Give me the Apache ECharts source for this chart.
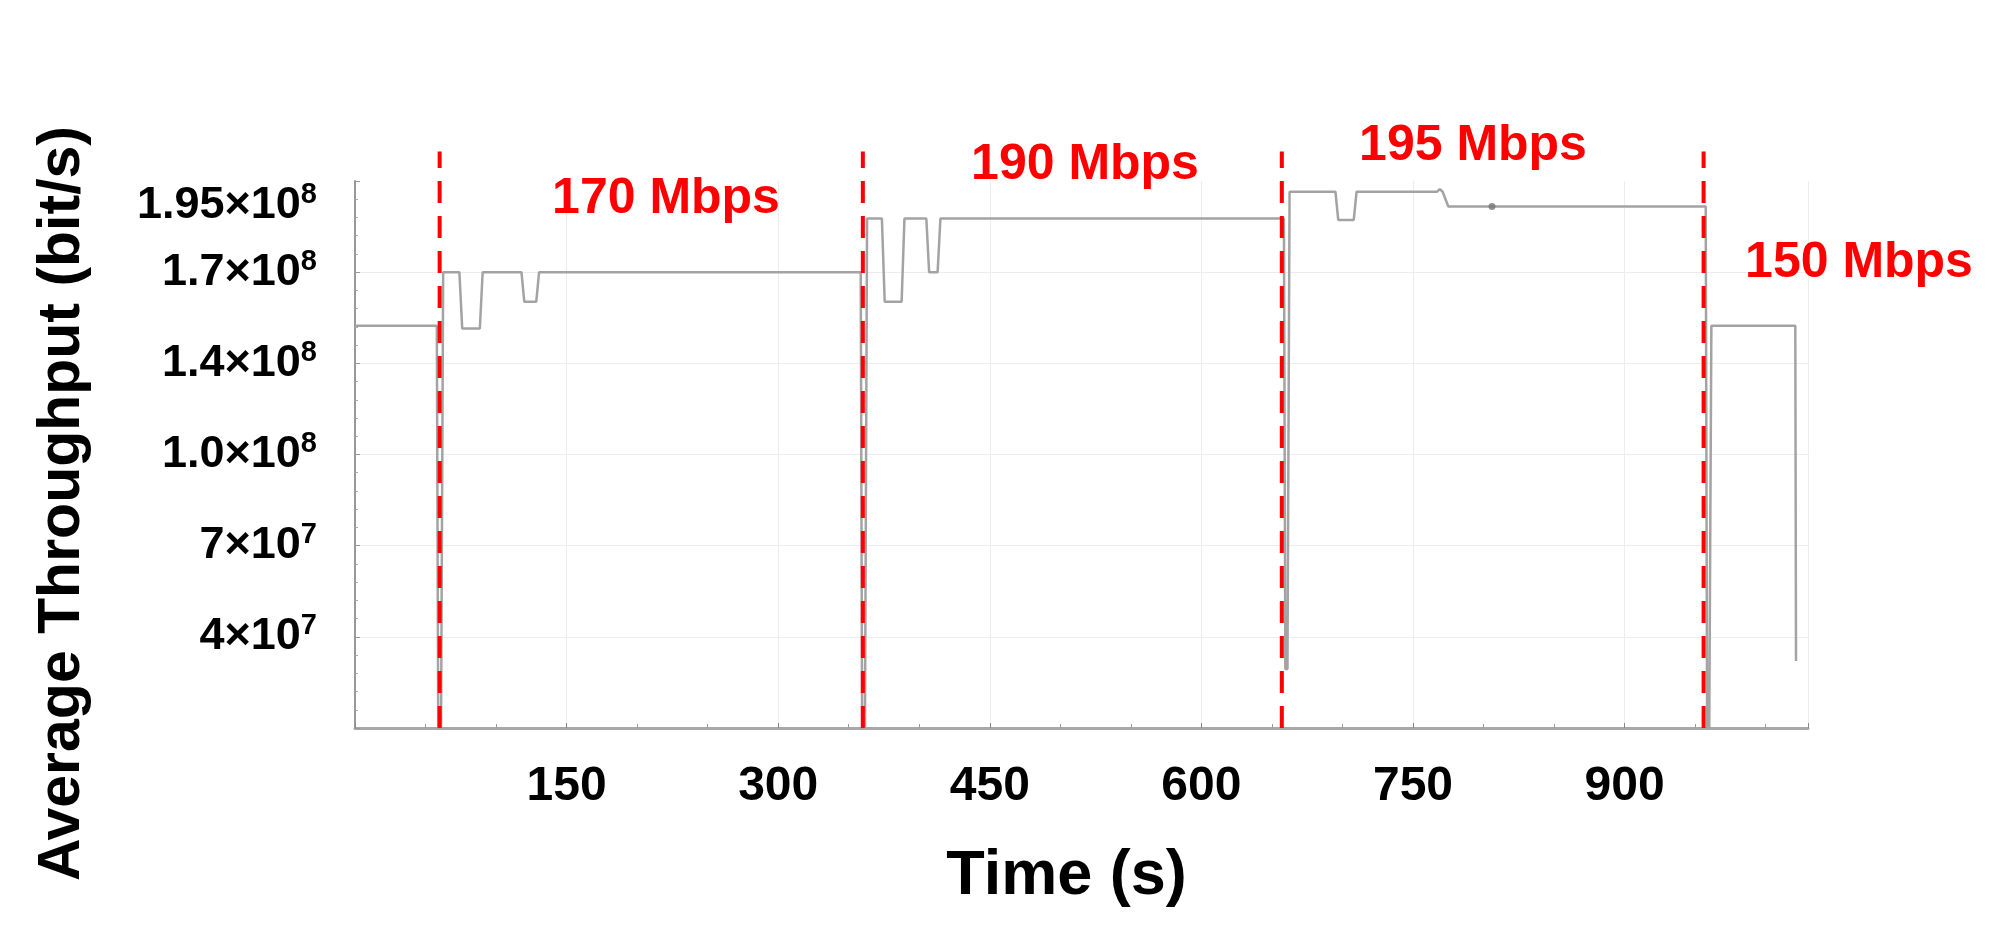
<!DOCTYPE html>
<html><head><meta charset="utf-8">
<script src="https://cdn.jsdelivr.net/npm/echarts@6/dist/echarts.min.js"></script>
<style>html,body{margin:0;padding:0;background:#fff}#c{width:1995px;height:932px}</style>
</head><body><div id="c"></div>
<script>
// ---- data ----
const timeS = [0, 58, 59, 61, 62.5, 74, 76, 88.5, 90.5, 118, 120, 128.5, 130.5,
  358.5, 359.5, 361.5, 363, 373.5, 375.5, 387.5, 389.5, 405, 407, 413, 415,
  658.5, 659.5, 661, 662.5, 695, 697, 708, 710, 767, 769, 771, 775,
  957.5, 958.5, 960, 961.5, 1021, 1021.5];
const throughputBps = [150e6, 150e6, 0, 0, 170e6, 170e6, 149e6, 149e6, 170e6, 170e6, 159e6, 159e6, 170e6,
  170e6, 0, 0, 190e6, 190e6, 159e6, 159e6, 190e6, 190e6, 170e6, 170e6, 190e6,
  190e6, 22e6, 22e6, 200e6, 200e6, 189.5e6, 189.5e6, 200e6, 200e6, 201e6, 200e6, 194.5e6,
  194.5e6, 0, 0, 150e6, 150e6, 25e6];
const dotTime = [806];
const dotValue = [194.5e6];
const rateChangeTimes = [60, 360, 657, 956];
const rateLabels = ['170 Mbps', '190 Mbps', '195 Mbps', '150 Mbps'];
const yTickValues = [34e6, 68e6, 102e6, 136e6, 170e6, 195e6];
const yTickMantissa = ['4', '7', '1.0', '1.4', '1.7', '1.95'];
const yTickExponent = ['7', '7', '8', '8', '8', '8'];

const FONT = 'Liberation Sans, Arial, sans-serif';
const chart = echarts.init(document.getElementById('c'), null, {renderer: 'canvas'});

const dashSeries = rateChangeTimes.map(t => ({
  type: 'line', clip: false, silent: true, showSymbol: false, z: 5,
  data: [[t, 0], [t, 215e6]],
  lineStyle: {color: '#ff0000', width: 4, type: [22, 13]}
}));

const labelPos = [[666, 199], [1085, 165], [1473, 146], [1859, 263]];

chart.setOption({
  animation: false,
  backgroundColor: '#fff',
  grid: {left: 355, right: 187, top: 181, bottom: 204},
  xAxis: {
    type: 'value', min: 0, max: 1030, interval: 150, offset: 8,
    axisLine: {show: true, lineStyle: {color: '#a8a8a8', width: 3}},
    axisTick: {show: true, inside: true, length: 5, lineStyle: {color: '#888'}},
    minorTick: {show: true, splitNumber: 3, length: 4, lineStyle: {color: '#999'}},
    splitLine: {show: true, lineStyle: {color: '#ededed', width: 1}},
    axisLabel: {showMinLabel: false, showMaxLabel: false, fontSize: 48, fontWeight: 'bold',
      color: '#000', margin: 27, fontFamily: FONT},
    name: 'Time (s)', nameLocation: 'middle', nameGap: 109,
    nameTextStyle: {fontSize: 63, fontWeight: 'bold', color: '#000', fontFamily: FONT, padding: [0, 30, 0, 0]}
  },
  yAxis: {
    type: 'value', min: 0, max: 204e6, interval: 34e6,
    axisLine: {show: true, lineStyle: {color: '#999', width: 2}},
    axisTick: {show: true, inside: true, length: 5, lineStyle: {color: '#999'}},
    minorTick: {show: true, splitNumber: 5, length: 3, lineStyle: {color: '#aaa'}},
    splitLine: {show: true, showMaxLine: false, lineStyle: {color: '#ededed', width: 1}},
    axisLabel: {
      customValues: yTickValues, margin: 38,
      formatter: function (v) {
        const i = yTickValues.findIndex(t => Math.abs(t - v) < 1);
        return i < 0 ? '' : '{m|' + yTickMantissa[i] + '×10}{e|' + yTickExponent[i] + '}';
      },
      rich: {
        m: {fontSize: 45, fontWeight: 'bold', color: '#000', fontFamily: FONT, lineHeight: 50},
        e: {fontSize: 29, fontWeight: 'bold', color: '#000', fontFamily: FONT, verticalAlign: 'top', lineHeight: 29}
      }
    },
    name: 'Average Throughput (bit/s)', nameLocation: 'middle', nameGap: 263, nameRotate: 90,
    nameTextStyle: {fontSize: 59, fontWeight: 'bold', color: '#000', fontFamily: FONT, padding: [0, 98, 0, 0]}
  },
  series: [
    {
      type: 'line', showSymbol: false, z: 3,
      data: timeS.map((t, i) => [t, throughputBps[i]]),
      lineStyle: {color: '#a3a3a3', width: 2.5}
    },
    {
      type: 'scatter', z: 4, symbolSize: 7,
      data: dotTime.map((t, i) => [t, dotValue[i]]),
      itemStyle: {color: '#777'}
    }
  ].concat(dashSeries),
  graphic: rateLabels.map((txt, i) => ({
    type: 'text', x: labelPos[i][0], y: labelPos[i][1], z: 10,
    style: {text: txt, fill: '#ff0000', font: 'bold 50px ' + FONT, textAlign: 'center', textVerticalAlign: 'middle'}
  }))
});
</script></body></html>
